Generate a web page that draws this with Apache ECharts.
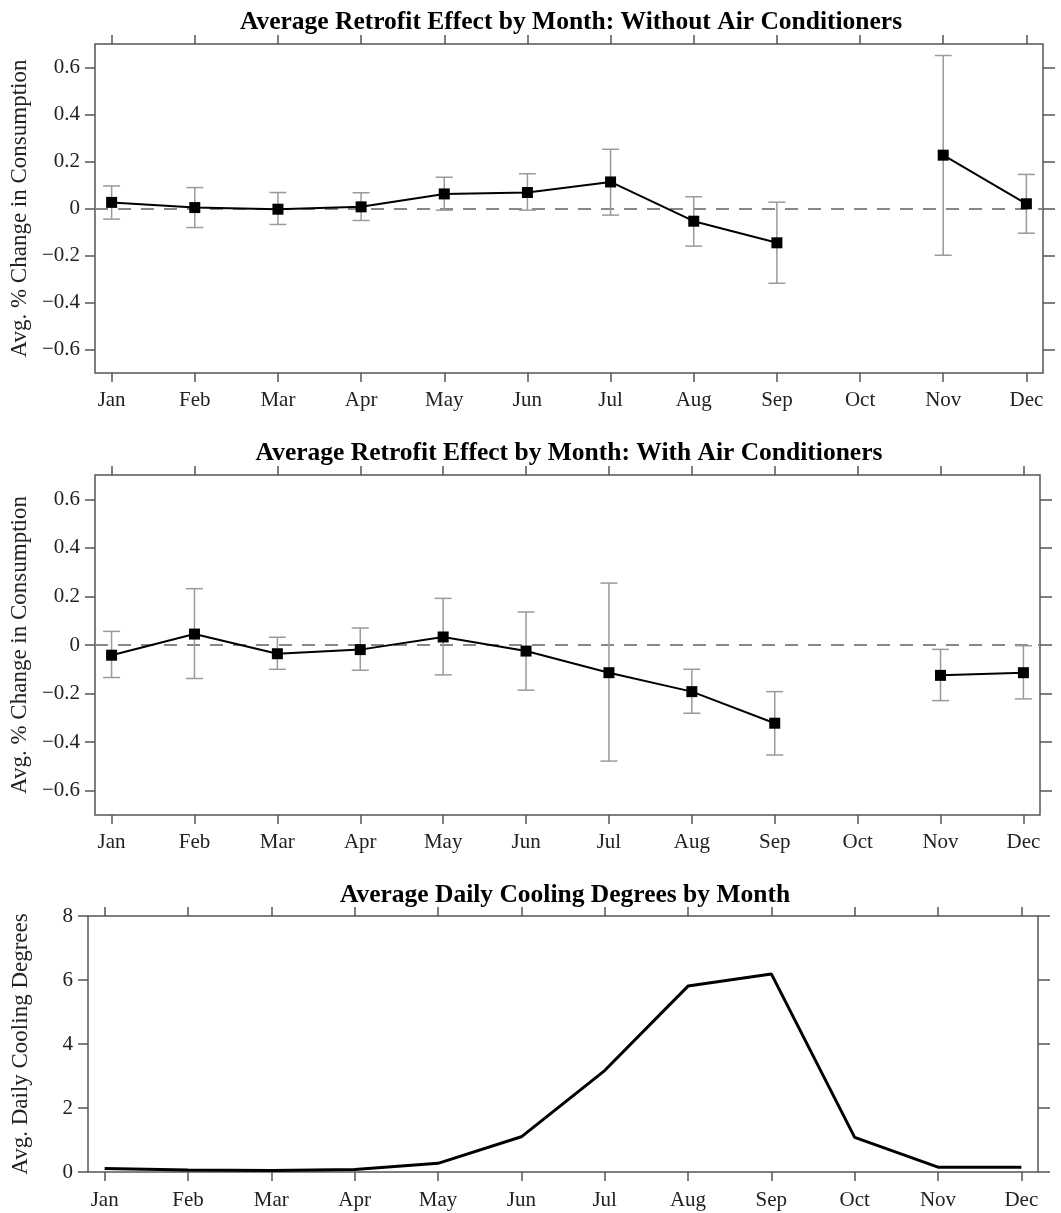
<!DOCTYPE html>
<html>
<head>
<meta charset="utf-8">
<script src="https://cdn.jsdelivr.net/npm/echarts@6/dist/echarts.min.js"></script>
<style>
  html, body { margin: 0; padding: 0; background: #fff; }
  #chart { width: 1061px; height: 1213px; }
</style>
</head>
<body>
<div id="chart"></div>
<script>
// ---------- data ----------
const months = ['Jan','Feb','Mar','Apr','May','Jun','Jul','Aug','Sep','Oct','Nov','Dec'];

// Panel 1: without air conditioners
const noAcMean = [0.026, 0.004, -0.003, 0.007, 0.062, 0.068, 0.113, -0.054, -0.146, null, 0.227, 0.020];
const noAcLow  = [-0.045, -0.081, -0.068, -0.051, -0.007, -0.007, -0.028, -0.160, -0.318, null, -0.199, -0.105];
const noAcHigh = [0.096, 0.089, 0.068, 0.067, 0.133, 0.148, 0.252, 0.050, 0.027, null, 0.651, 0.145];

// Panel 2: with air conditioners
const acMean = [-0.042, 0.045, -0.036, -0.019, 0.033, -0.025, -0.114, -0.192, -0.322, null, -0.125, -0.114];
const acLow  = [-0.134, -0.138, -0.100, -0.104, -0.123, -0.186, -0.478, -0.281, -0.453, null, -0.229, -0.222];
const acHigh = [0.056, 0.232, 0.032, 0.070, 0.192, 0.136, 0.255, -0.100, -0.192, null, -0.018, -0.003];

// Panel 3: average daily cooling degrees
const cooling = [0.11, 0.06, 0.05, 0.08, 0.27, 1.10, 3.17, 5.81, 6.19, 1.08, 0.15, 0.15];

// tick values and labels
const effectTicks = [-0.6, -0.4, -0.2, 0, 0.2, 0.4, 0.6];
const effectTickLabels = ['\u22120.6', '\u22120.4', '\u22120.2', '0', '0.2', '0.4', '0.6'];
const coolingTicks = [0, 2, 4, 6, 8];
const coolingTickLabels = ['0', '2', '4', '6', '8'];

const titles = [
  'Average Retrofit Effect by Month: Without Air Conditioners',
  'Average Retrofit Effect by Month: With Air Conditioners',
  'Average Daily Cooling Degrees by Month'
];
const yNames = ['Avg. % Change in Consumption', 'Avg. % Change in Consumption', 'Avg. Daily Cooling Degrees'];

// ---------- helpers ----------
const monthPos = months.map((_, i) => i + 1);
const toPoints = arr => arr.map((v, i) => [i + 1, v]);
const toBars = (lo, hi) => lo.map((v, i) => [i + 1, v, hi[i]]).filter(d => d[1] != null && d[2] != null);

const FONT = 'Liberation Serif';
const AX = '#555';

function xAxisPair(gi, labelMargin) {
  const base = {
    type: 'value', gridIndex: gi, min: 0.8, max: 12.2,
    axisLine: { show: false, onZero: false }, splitLine: { show: false }
  };
  return [
    Object.assign({}, base, {
      position: 'bottom',
      axisTick: { show: true, customValues: monthPos, length: 9, lineStyle: { color: AX, width: 1.5 } },
      axisLabel: { customValues: monthPos, formatter: v => months[Math.round(v) - 1],
        margin: labelMargin, fontFamily: FONT, fontSize: 21, color: '#222' }
    }),
    Object.assign({}, base, {
      position: 'top',
      axisTick: { show: true, customValues: monthPos, length: 9, lineStyle: { color: AX, width: 1.5 } },
      axisLabel: { show: false }
    })
  ];
}

function yAxisPair(gi, min, max, ticks, labels, name, nameGap) {
  const base = {
    type: 'value', gridIndex: gi, min: min, max: max,
    axisLine: { show: false, onZero: false }, splitLine: { show: false }
  };
  return [
    Object.assign({}, base, {
      position: 'left',
      name: name, nameLocation: 'middle', nameGap: nameGap,
      nameTextStyle: { fontFamily: FONT, fontSize: 23, color: '#222' },
      axisTick: { show: true, customValues: ticks, length: 10, lineStyle: { color: AX, width: 1.5 } },
      axisLabel: { customValues: ticks, formatter: v => {
          const idx = ticks.findIndex(t => Math.abs(t - v) < 1e-9);
          return idx >= 0 ? labels[idx] : '';
        }, margin: 15, fontFamily: FONT, fontSize: 21, color: '#222' }
    }),
    Object.assign({}, base, {
      position: 'right',
      axisTick: { show: true, customValues: ticks, length: 12, lineStyle: { color: AX, width: 1.5 } },
      axisLabel: { show: false }
    })
  ];
}

function errorBarSeries(xi, yi, data) {
  return {
    type: 'custom', xAxisIndex: xi, yAxisIndex: yi, z: 2, silent: true,
    data: data, encode: { x: 0, y: [1, 2] },
    renderItem: function (params, api) {
      const x = api.value(0);
      const pLo = api.coord([x, api.value(1)]);
      const pHi = api.coord([x, api.value(2)]);
      const hw = 8.5;
      const st = { stroke: '#9a9a9a', lineWidth: 1.5 };
      return { type: 'group', children: [
        { type: 'line', shape: { x1: pLo[0], y1: pLo[1], x2: pHi[0], y2: pHi[1] }, style: st },
        { type: 'line', shape: { x1: pHi[0] - hw, y1: pHi[1], x2: pHi[0] + hw, y2: pHi[1] }, style: st },
        { type: 'line', shape: { x1: pLo[0] - hw, y1: pLo[1], x2: pLo[0] + hw, y2: pLo[1] }, style: st }
      ]};
    }
  };
}

function meanSeries(xi, yi, data) {
  return {
    type: 'line', xAxisIndex: xi, yAxisIndex: yi, z: 4, silent: true,
    data: data, connectNulls: false,
    symbol: 'rect', symbolSize: 11,
    itemStyle: { color: '#000' },
    lineStyle: { color: '#000', width: 2 },
    markLine: {
      silent: true, symbol: 'none', label: { show: false }, z: 1,
      lineStyle: { color: '#888', width: 2, type: [13, 10] },
      data: [{ yAxis: 0 }]
    }
  };
}

const chart = echarts.init(document.getElementById('chart'), null, { renderer: 'canvas' });

const gridStyle = { show: true, borderColor: AX, borderWidth: 1.5, backgroundColor: 'transparent' };
const titleStyle = { fontFamily: FONT, fontWeight: 'bold', fontSize: 25.5, color: '#000' };

const option = {
  animation: false,
  backgroundColor: '#fff',
  title: [
    { text: titles[0], left: 571, top: 9, textAlign: 'center', padding: 0, textStyle: titleStyle },
    { text: titles[1], left: 569, top: 440, textAlign: 'center', padding: 0, textStyle: titleStyle },
    { text: titles[2], left: 565, top: 882, textAlign: 'center', padding: 0, textStyle: titleStyle }
  ],
  grid: [
    Object.assign({ left: 92, top: 44, width: 951, height: 329 }, gridStyle),
    Object.assign({ left: 92, top: 475, width: 948, height: 340 }, gridStyle),
    Object.assign({ left: 88, top: 916, width: 950, height: 256 }, gridStyle)
  ],
  xAxis: [].concat(xAxisPair(0, 17), xAxisPair(1, 17), xAxisPair(2, 18)),
  yAxis: [].concat(
    yAxisPair(0, -0.7, 0.7, effectTicks, effectTickLabels, yNames[0], 62),
    yAxisPair(1, -0.7, 0.7, effectTicks, effectTickLabels, yNames[1], 62),
    yAxisPair(2, 0, 8, coolingTicks, coolingTickLabels, yNames[2], 56)
  ),
  series: [
    errorBarSeries(0, 0, toBars(noAcLow, noAcHigh)),
    meanSeries(0, 0, toPoints(noAcMean)),
    errorBarSeries(2, 2, toBars(acLow, acHigh)),
    meanSeries(2, 2, toPoints(acMean)),
    {
      type: 'line', xAxisIndex: 4, yAxisIndex: 4, silent: true,
      data: toPoints(cooling), symbol: 'none',
      lineStyle: { color: '#000', width: 3 }
    }
  ]
};

chart.setOption(option);
</script>
</body>
</html>
